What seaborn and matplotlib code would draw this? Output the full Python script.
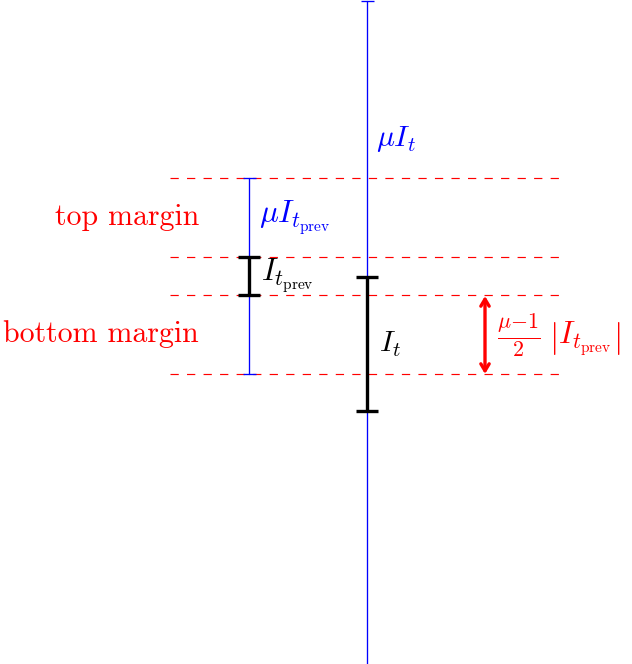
import matplotlib
matplotlib.use("Agg")
import matplotlib.pyplot as plt
import seaborn as sns

# diagram laid out in pixel units (y grows downwards)
margin_levels = [178, 257, 295, 374]
dash_span = [170, 560]

prev_x = 249
cur_x = 367

mu_it = [1, 690]          # long blue interval, runs off the bottom
it_cur = [277, 411]
mu_it_prev = [178, 374]
it_prev = [257, 295]

arrow_x = 485
arrow_span = [296, 374]

labels = {
    "top": "top margin",
    "bottom": "bottom margin",
    "mu_it": r"$\mu I_t$",
    "mu_it_prev": r"$\mu I_{t_{\mathrm{prev}}}$",
    "it_prev": r"$I_{t_{\mathrm{prev}}}$",
    "it": r"$I_t$",
    "gap": r"$\frac{\mu{-}1}{2}\;\left|I_{t_{\mathrm{prev}}}\right|$",
}

sns.set_style("white")
plt.rcParams["mathtext.fontset"] = "cm"
plt.rcParams["axes.unicode_minus"] = False

fig = plt.figure(figsize=(6.32, 6.64), dpi=100)
ax = fig.add_axes([0, 0, 1, 1])

# dashed red margin lines
for lvl in margin_levels:
    sns.lineplot(x=dash_span, y=[lvl, lvl], ax=ax, color="red", lw=0.85,
                 linestyle=(0, (7, 7)), estimator=None)


def interval(x, span, color, lw, cap):
    sns.lineplot(x=[x, x], y=span, ax=ax, color=color, lw=lw,
                 estimator=None, orient="y", sort=False)
    ax.hlines(span, x - cap, x + cap, color=color, lw=lw)


interval(cur_x, mu_it, "blue", 0.95, 6.5)
interval(prev_x, mu_it_prev, "blue", 0.95, 6.5)
interval(cur_x, it_cur, "black", 2.4, 11)
interval(prev_x, it_prev, "black", 2.4, 11)

ax.annotate("", xy=(arrow_x, arrow_span[0]), xytext=(arrow_x, arrow_span[1]),
            arrowprops=dict(arrowstyle="<->,head_length=0.5,head_width=0.3",
                            color="red", lw=2.4, shrinkA=0, shrinkB=0))

fs = 21.5
mid = lambda a, b: (a + b) / 2
ax.text(199, mid(margin_levels[0], margin_levels[1]), labels["top"],
        color="red", fontsize=fs, family="cmr10", ha="right", va="center")
ax.text(199, mid(margin_levels[2], margin_levels[3]), labels["bottom"],
        color="red", fontsize=fs, family="cmr10", ha="right", va="center")
ax.text(cur_x + 9, mid(mu_it[0], it_cur[0]), labels["mu_it"],
        color="blue", fontsize=fs, ha="left", va="center")
ax.text(prev_x + 10, mid(margin_levels[0], margin_levels[1]), labels["mu_it_prev"],
        color="blue", fontsize=fs + 1, ha="left", va="center")
ax.text(prev_x + 12, mid(it_prev[0], it_prev[1]), labels["it_prev"],
        color="black", fontsize=fs + 1, ha="left", va="center")
ax.text(cur_x + 12, mid(it_cur[0], it_cur[1]), labels["it"],
        color="black", fontsize=fs, ha="left", va="center")
ax.text(arrow_x + 12, mid(arrow_span[0], arrow_span[1]), labels["gap"],
        color="red", fontsize=fs + 1, ha="left", va="center")

ax.set_xlim(0, 632)
ax.set_ylim(664, 0)
ax.axis("off")

fig.savefig("out.png", dpi=100)
